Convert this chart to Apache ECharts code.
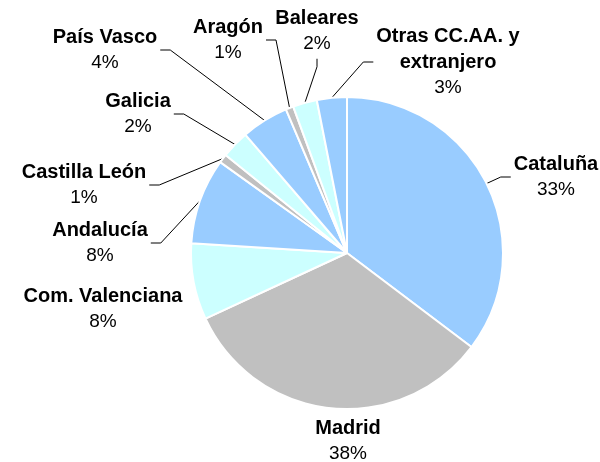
<!DOCTYPE html>
<html>
<head>
<meta charset="utf-8">
<script src="https://cdn.jsdelivr.net/npm/echarts@6/dist/echarts.min.js"></script>
<style>
  html, body { margin: 0; padding: 0; background: #fff; }
  #chart { width: 600px; height: 462px; }
</style>
</head>
<body>
<div id="chart"></div>
<script>
// data (slice sizes) and the printed percentages
var regions = ['Cataluña', 'Madrid', 'Com. Valenciana', 'Andalucía', 'Castilla León',
  'Galicia', 'País Vasco', 'Aragón', 'Baleares', 'Otras CC.AA. y\nextranjero'];
var shares = [35.3, 32.8, 7.9, 8.9, 0.9, 2.9, 4.9, 0.8, 2.5, 3.1];
var pctLabels = ['33%', '38%', '8%', '8%', '1%', '2%', '4%', '1%', '2%', '3%'];

var sliceColors = ['#99CCFF', '#C0C0C0', '#CCFFFF'];
// where each label block sits (centre), and which side the leader line leaves from
var labelPos = [[556, 177], [348, 441], [103, 309], [100, 243], [84, 185],
  [138, 114], [105, 50], [228, 40], [317, 31], [448, 62]];
var lineSide = ['left', null, null, 'right', 'right', 'right', 'right', 'right', 'bottom', 'left'];

var chart = echarts.init(document.getElementById('chart'));

var data = regions.map(function (name, i) {
  var item = {
    name: name,
    value: shares[i],
    itemStyle: { color: sliceColors[i % 3] }
  };
  if (!lineSide[i]) item.labelLine = { show: false };
  return item;
});

chart.setOption({
  animation: false,
  // the original is cut off a little at the top edge
  graphic: [{
    type: 'rect',
    left: 0,
    top: 0,
    z: 100,
    shape: { width: 600, height: 8 },
    style: { fill: '#fff' }
  }],
  series: [{
    type: 'pie',
    center: [347, 253],
    radius: 156,
    startAngle: 90,
    clockwise: true,
    avoidLabelOverlap: false,
    data: data,
    itemStyle: { borderColor: '#fff', borderWidth: 2 },
    label: {
      show: true,
      position: 'outside',
      color: '#000',
      formatter: function (p) {
        var lines = p.name.split('\n').map(function (s) { return '{n|' + s + '}'; });
        return lines.join('\n') + '\n{p|' + pctLabels[p.dataIndex] + '}';
      },
      rich: {
        n: { fontFamily: 'Liberation Sans, Arial, sans-serif', fontWeight: 'bold', fontSize: 20, lineHeight: 26, color: '#000', align: 'center' },
        p: { fontFamily: 'Liberation Sans, Arial, sans-serif', fontSize: 19, lineHeight: 26, color: '#000', align: 'center' }
      }
    },
    labelLine: {
      show: true,
      length: 10,
      length2: 10,
      lineStyle: { color: '#000', width: 1 }
    },
    labelLayout: function (params) {
      var i = params.dataIndex;
      var pos = labelPos[i];
      var out = { x: pos[0], y: pos[1], align: 'center', verticalAlign: 'middle' };
      var side = lineSide[i];
      if (side && params.labelLinePoints) {
        var anchor = params.labelLinePoints[0];
        var w = params.labelRect.width, h = params.labelRect.height;
        var end, bend;
        if (side === 'right') {
          end = [pos[0] + w / 2 + 3, pos[1]];
          bend = [end[0] + 10, pos[1]];
        } else if (side === 'left') {
          end = [pos[0] - w / 2 - 3, pos[1]];
          bend = [end[0] - 10, pos[1]];
        } else {
          end = [pos[0], pos[1] + h / 2 + 5];
          bend = [end[0], end[1] + 8];
        }
        out.labelLinePoints = [anchor, bend, end];
      }
      return out;
    }
  }]
});
</script>
</body>
</html>
